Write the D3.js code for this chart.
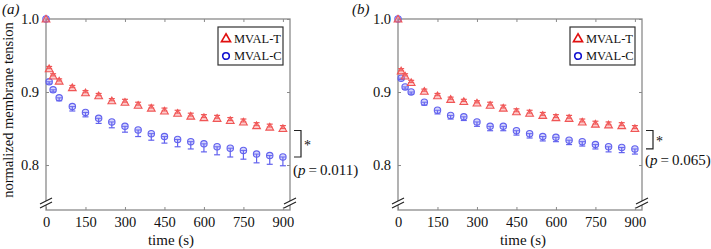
<!DOCTYPE html>
<html>
<head>
<meta charset="utf-8">
<script src="https://cdn.jsdelivr.net/npm/d3@7"></script>
<style>
    body { margin: 0; background: #fff; }
    svg text { font-family: "Liberation Serif", "Times New Roman", "DejaVu Serif", serif !important; fill: #111; }
</style>
</head>
<body>
<div id="chart"></div>
<script>
// time points (s)
const times = [0, 12, 27, 50, 100, 150, 200, 250, 300, 350, 400, 450, 500, 550, 600, 650, 700, 750, 800, 850, 900];
const xTicks = [0, 150, 300, 450, 600, 750, 900];
const yTicks = [0.8, 0.9, 1.0];

// panel (a)
const aTension = [1.0, 0.932, 0.922, 0.915, 0.906, 0.899, 0.895, 0.888, 0.886, 0.882, 0.878, 0.874, 0.871, 0.867, 0.865, 0.864, 0.861, 0.859, 0.854, 0.852, 0.850];
const aTensionErr = [0, 0.003, 0.003, 0.003, 0.003, 0.003, 0.003, 0.003, 0.004, 0.004, 0.004, 0.004, 0.004, 0.004, 0.004, 0.004, 0.004, 0.004, 0.004, 0.004, 0.004];
const aControl = [1.0, 0.914, 0.903, 0.892, 0.880, 0.872, 0.864, 0.859, 0.853, 0.848, 0.843, 0.839, 0.835, 0.832, 0.829, 0.825, 0.823, 0.820, 0.815, 0.813, 0.811];
const aControlErr = [0, 0.003, 0.003, 0.004, 0.006, 0.006, 0.007, 0.008, 0.008, 0.009, 0.009, 0.009, 0.010, 0.010, 0.011, 0.011, 0.012, 0.012, 0.012, 0.012, 0.012];

// panel (b)
const bTension = [1.0, 0.929, 0.922, 0.913, 0.901, 0.895, 0.890, 0.887, 0.885, 0.882, 0.878, 0.873, 0.871, 0.868, 0.865, 0.864, 0.859, 0.856, 0.855, 0.854, 0.850];
const bTensionErr = [0, 0.003, 0.003, 0.003, 0.003, 0.003, 0.003, 0.003, 0.003, 0.004, 0.004, 0.004, 0.004, 0.004, 0.004, 0.004, 0.004, 0.004, 0.004, 0.004, 0.004];
const bControl = [1.0, 0.919, 0.907, 0.900, 0.886, 0.875, 0.868, 0.866, 0.859, 0.853, 0.853, 0.847, 0.843, 0.839, 0.838, 0.834, 0.832, 0.828, 0.825, 0.824, 0.822];
const bControlErr = [0, 0.002, 0.003, 0.003, 0.004, 0.005, 0.005, 0.005, 0.006, 0.006, 0.006, 0.006, 0.006, 0.006, 0.006, 0.006, 0.006, 0.006, 0.007, 0.007, 0.007];

const panels = [
    {label: "(a)", labelX: 2, left: 46, tension: aTension, tErr: aTensionErr, control: aControl, cErr: aControlErr, p: "0.011", pDy: 18, yLabel: true},
    {label: "(b)", labelX: 352, left: 398, tension: bTension, tErr: bTensionErr, control: bControl, cErr: bControlErr, p: "0.065", pDy: 16, yLabel: false}
];

const W = 711, H = 249;
const serif = '"Liberation Serif", "Times New Roman", "DejaVu Serif", serif';
const svg = d3.select("#chart").append("svg")
    .attr("width", W)
    .attr("height", H);

const axisColor = "#8a8a8a";
const redStroke = "#f05656", redFill = "rgba(245,110,110,0.35)";
const blueStroke = "#6262ee", blueFill = "rgba(120,120,245,0.3)";

panels.forEach(p => drawPanel(p));

function drawPanel(p) {
    let pw = 244, top = 19, bottom = 210;

    let x = d3.scaleLinear().domain([0, 927]).range([p.left, p.left + pw]);
    let y = d3.scaleLinear().domain([0.7384, 1.0]).range([bottom, top]);

    let g = svg.append("g");

    // frame
    g.append("rect")
        .attr("x", p.left).attr("y", top)
        .attr("width", pw).attr("height", bottom - top)
        .attr("fill", "none")
        .attr("stroke", axisColor)
        .attr("stroke-width", 1.3);

    // axes (inward ticks)
    let xb = g.append("g").attr("transform", `translate(0,${bottom})`)
        .call(d3.axisBottom(x).tickValues(xTicks).tickSize(-3).tickPadding(7).tickFormat(d3.format("d")));
    let xt = g.append("g").attr("transform", `translate(0,${top})`)
        .call(d3.axisTop(x).tickValues(xTicks).tickSize(-3).tickFormat(""));
    let yl = g.append("g").attr("transform", `translate(${p.left},0)`)
        .call(d3.axisLeft(y).tickValues(yTicks).tickSize(-3).tickPadding(7).tickFormat(d3.format(".1f")));
    let yr = g.append("g").attr("transform", `translate(${p.left + pw},0)`)
        .call(d3.axisRight(y).tickValues(yTicks).tickSize(-3).tickFormat(""));

    [xb, xt, yl, yr].forEach(a => {
        a.attr("font-family", null).attr("font-size", null);
        a.select(".domain").remove();
        a.selectAll(".tick line").attr("stroke", axisColor);
        a.selectAll("text")
            .style("font-family", serif)
            .style("font-size", "14.5px")
            .attr("fill", "#111");
    });

    // axis breaks
    [p.left, p.left + pw].forEach(bx => {
        let by = 203;
        g.append("polygon")
            .attr("points", `${bx - 6},${by + 1} ${bx + 6},${by - 5} ${bx + 6},${by - 1} ${bx - 6},${by + 5}`)
            .attr("fill", "white");
        g.append("line")
            .attr("x1", bx - 6).attr("y1", by + 1).attr("x2", bx + 6).attr("y2", by - 5)
            .attr("stroke", "#222").attr("stroke-width", 1.2);
        g.append("line")
            .attr("x1", bx - 6).attr("y1", by + 5).attr("x2", bx + 6).attr("y2", by - 1)
            .attr("stroke", "#222").attr("stroke-width", 1.2);
    });

    // labels
    g.append("text")
        .attr("x", p.left + pw / 2 + 3).attr("y", 245)
        .attr("text-anchor", "middle")
        .style("font-family", serif).style("font-size", "15px")
        .text("time (s)");

    g.append("text")
        .attr("x", p.labelX).attr("y", 14)
        .style("font-family", serif).style("font-size", "15px")
        .attr("font-style", "italic")
        .text(p.label);

    if (p.yLabel) {
        g.append("text")
            .attr("transform", `translate(13,110) rotate(-90)`)
            .attr("text-anchor", "middle")
            .style("font-family", serif).style("font-size", "14.5px")
            .text("normalized membrane tension");
    }

    let cap = 3;

    // control (circles), error bars downward
    let cData = times.map((t, i) => ({t: t, v: p.control[i], e: p.cErr[i]}));
    let cg = g.append("g");
    cData.forEach(d => {
        let cx = x(d.t), cy = y(d.v), ey = y(d.v - d.e);
        if (d.e > 0) {
            cg.append("line").attr("x1", cx).attr("x2", cx).attr("y1", cy).attr("y2", ey)
                .attr("stroke", blueStroke).attr("stroke-width", 1.2);
            cg.append("line").attr("x1", cx - cap).attr("x2", cx + cap).attr("y1", ey).attr("y2", ey)
                .attr("stroke", blueStroke).attr("stroke-width", 1.2);
            cg.append("line").attr("x1", cx - cap).attr("x2", cx + cap).attr("y1", cy).attr("y2", cy)
                .attr("stroke", blueStroke).attr("stroke-width", 1);
        }
        cg.append("circle").attr("cx", cx).attr("cy", cy).attr("r", 3.2)
            .attr("fill", blueFill).attr("stroke", blueStroke).attr("stroke-width", 1.1);
    });

    // tension (triangles), error bars upward
    let tData = times.map((t, i) => ({t: t, v: p.tension[i], e: p.tErr[i]}));
    let tg = g.append("g");
    let tri = d3.symbol().type(d3.symbolTriangle).size(26);
    tData.forEach(d => {
        let cx = x(d.t), cy = y(d.v), ey = y(d.v + d.e);
        if (d.e > 0) {
            tg.append("line").attr("x1", cx).attr("x2", cx).attr("y1", cy).attr("y2", ey)
                .attr("stroke", redStroke).attr("stroke-width", 1.2);
            tg.append("line").attr("x1", cx - cap).attr("x2", cx + cap).attr("y1", ey).attr("y2", ey)
                .attr("stroke", redStroke).attr("stroke-width", 1.2);
            tg.append("line").attr("x1", cx - cap).attr("x2", cx + cap).attr("y1", cy).attr("y2", cy)
                .attr("stroke", redStroke).attr("stroke-width", 1);
        }
        tg.append("path").attr("d", tri)
            .attr("transform", `translate(${cx},${cy + 0.8})`)
            .attr("fill", redFill).attr("stroke", redStroke).attr("stroke-width", 1.1);
    });

    // legend
    let lx = p.left + 172, ly = 27;
    let leg = g.append("g").attr("transform", `translate(${lx},${ly})`);
    leg.append("rect").attr("width", 65).attr("height", 38)
        .attr("fill", "white").attr("stroke", "#333").attr("stroke-width", 1.2);
    leg.append("path").attr("d", d3.symbol().type(d3.symbolTriangle).size(36))
        .attr("transform", "translate(8,12)")
        .attr("fill", "none").attr("stroke", "#e01010").attr("stroke-width", 1.6);
    leg.append("text").attr("x", 16).attr("y", 16)
        .style("font-family", serif).style("font-size", "12.5px").text("MVAL-T");
    leg.append("circle").attr("cx", 8).attr("cy", 29).attr("r", 3.3)
        .attr("fill", "none").attr("stroke", "#1010d0").attr("stroke-width", 1.6);
    leg.append("text").attr("x", 16).attr("y", 33)
        .style("font-family", serif).style("font-size", "12.5px").text("MVAL-C");

    // significance bracket
    let last = times.length - 1;
    let bx = p.left + pw + 11;
    let y1 = y(p.tension[last]) + 2, y2 = y(p.control[last]);
    g.append("path")
        .attr("d", `M${bx - 7},${y1} H${bx} V${y2} H${bx - 7}`)
        .attr("fill", "none").attr("stroke", "#222").attr("stroke-width", 1.2);
    g.append("text").attr("x", bx + 3).attr("y", (y1 + y2) / 2 + 6)
        .style("font-family", serif).style("font-size", "14px").text("*");
    let pt = g.append("text").attr("x", bx - 8).attr("y", y2 + p.pDy)
        .style("font-family", serif).style("font-size", "15px");
    pt.append("tspan").text("(");
    pt.append("tspan").attr("font-style", "italic").text("p");
    pt.append("tspan").text("\u2009=\u20090." + p.p.slice(2) + ")");
}
</script>
</body>
</html>
